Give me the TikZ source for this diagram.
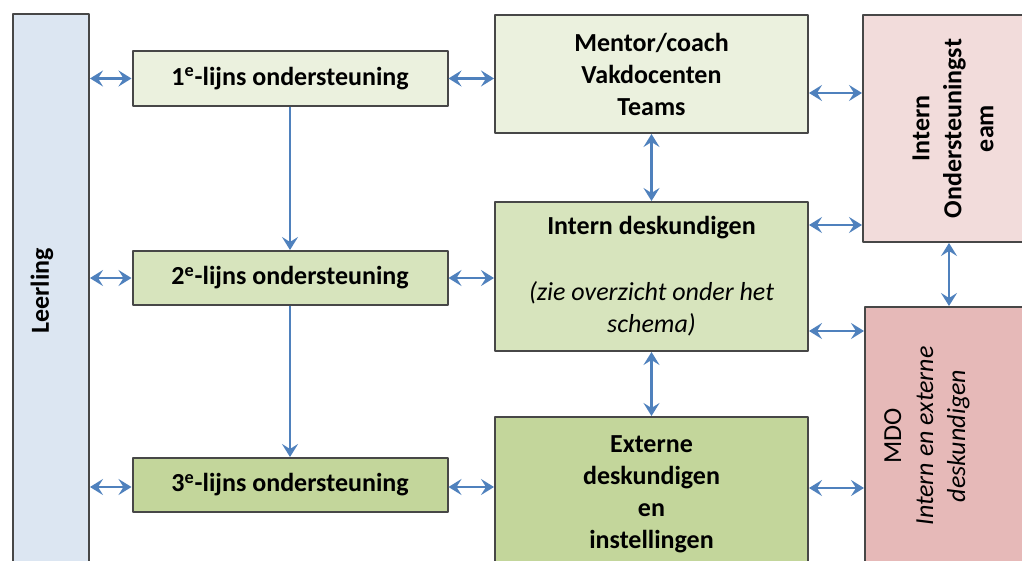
\documentclass[tikz,border=0pt]{standalone}
\usepackage{fontspec}
\setmainfont{Carlito}
\usetikzlibrary{arrows.meta}
\definecolor{leerblue}{HTML}{DCE6F2}
\definecolor{lightgreen}{HTML}{EBF1DE}
\definecolor{midgreen}{HTML}{D7E4BD}
\definecolor{darkgreen}{HTML}{C3D69B}
\definecolor{iotpink}{HTML}{F2DCDB}
\definecolor{mdorose}{HTML}{E6B9B8}
\definecolor{lnkblue}{HTML}{4F81BD}
\newcommand{\schemafont}{\fontsize{13}{16}\selectfont}
\tikzset{
	box/.style={draw=black!72, line width=1pt, inner sep=0pt, align=center, font=\schemafont\bfseries},
	lnk/.style={color=lnkblue, line width=1.1pt},
}
\begin{document}
\begin{tikzpicture}[x=0.5pt, y=-0.5pt, >={Stealth[length=6.5pt,width=8pt,inset=2.5pt]}, line join=round]
	\useasboundingbox[fill=white] (0,0) rectangle (1022,561);
	% Leerling
	\node[box, fill=leerblue, minimum width=38pt, minimum height=300pt] (leer) at (51,314) {};
	\node[font=\schemafont\bfseries, rotate=90] (leertxt) at (42,291) {Leerling};
	% lijnen
	\node[box, fill=lightgreen, minimum width=157.5pt, minimum height=27.5pt] (l1) at (290,78.5) {1\textsuperscript{e}-lijns ondersteuning};
	\node[box, fill=midgreen, minimum width=157.5pt, minimum height=27pt] (l2) at (290,278) {2\textsuperscript{e}-lijns ondersteuning};
	\node[box, fill=darkgreen, minimum width=157.5pt, minimum height=27pt] (l3) at (290,485) {3\textsuperscript{e}-lijns ondersteuning};
	% middelste kolom
	\node[box, fill=lightgreen, minimum width=156.5pt, minimum height=59pt] (mentor) at (651.5,74) {Mentor/coach\\Vakdocenten\\Teams};
	\node[box, fill=midgreen, minimum width=156.5pt, minimum height=74.5pt] (intern) at (651.5,276.5) {Intern deskundigen\\[17pt]\mdseries\itshape (zie overzicht onder het\\\mdseries\itshape schema)};
	\node[box, fill=darkgreen, minimum width=156.5pt, minimum height=77.5pt] (extern) at (651.5,494.5) {Externe\\deskundigen\\en\\instellingen};
	% rechts
	\node[box, fill=iotpink, minimum width=92pt, minimum height=113.5pt] (iot) at (955,128.5) {\rotatebox{90}{\begin{tabular}{@{}c@{}}Intern\\Ondersteuningst\\eam\end{tabular}}};
	\node[box, fill=mdorose, minimum width=91pt, minimum height=146.5pt] (mdo) at (956,453.5) {};
	\node[font=\schemafont, rotate=90, align=center] (mdotxt) at (927,436) {MDO\\\itshape Intern en externe\\\itshape deskundigen};
	% pijlen
	\draw[lnk,<->] (leer.east |- l1.west) -- (l1.west);
	\draw[lnk,<->] (leer.east |- l2.west) -- (l2.west);
	\draw[lnk,<->] (leer.east |- 0,487) -- (l3.west |- 0,487);
	\draw[lnk,<->] (l1.east) -- (l1.east -| mentor.west);
	\draw[lnk,<->] (l2.east) -- (l2.east -| intern.west);
	\draw[lnk,<->] (l3.east |- 0,487) -- (extern.west |- 0,487);
	\draw[lnk,->] (l1) -- (l2);
	\draw[lnk,->] (l2) -- (l3);
	\draw[lnk,<->] (mentor) -- (intern);
	\draw[lnk,<->] (intern) -- (extern);
	\draw[lnk,<->] (mentor.east |- 0,93) -- (iot.west |- 0,93);
	\draw[lnk,<->] (intern.east |- 0,225) -- (iot.west |- 0,225);
	\draw[lnk,<->] (intern.east |- 0,331) -- (mdo.west |- 0,331);
	\draw[lnk,<->] (extern.east |- 0,488) -- (mdo.west |- 0,488);
	\draw[lnk,<->] (iot.south -| 949,0) -- (mdo.north -| 949,0);
\end{tikzpicture}
\end{document}
